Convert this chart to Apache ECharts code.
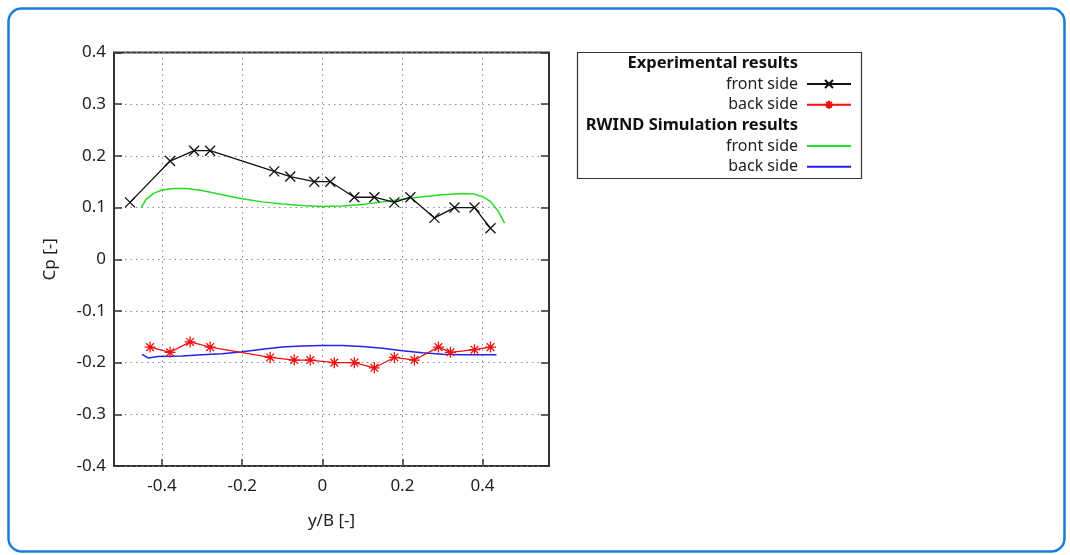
<!DOCTYPE html>
<html>
<head>
<meta charset="utf-8">
<script src="https://cdn.jsdelivr.net/npm/echarts@6/dist/echarts.min.js"></script>
<style>
html,body{margin:0;padding:0;background:#fff;}
#chart{width:1070px;height:555px;}
</style>
</head>
<body>
<div id="chart"></div>
<script>
// ---- data ----
var xTicks = [-0.4, -0.2, 0, 0.2, 0.4];
var expFront = [[-0.48,0.11],[-0.38,0.19],[-0.32,0.21],[-0.28,0.21],[-0.12,0.17],[-0.08,0.16],[-0.02,0.15],[0.02,0.15],[0.08,0.12],[0.13,0.12],[0.18,0.11],[0.22,0.12],[0.28,0.08],[0.33,0.10],[0.38,0.10],[0.42,0.06]];
var expBack = [[-0.43,-0.17],[-0.38,-0.18],[-0.33,-0.16],[-0.28,-0.17],[-0.13,-0.19],[-0.07,-0.195],[-0.03,-0.195],[0.03,-0.2],[0.08,-0.2],[0.13,-0.21],[0.18,-0.19],[0.23,-0.195],[0.29,-0.17],[0.32,-0.18],[0.38,-0.175],[0.42,-0.17]];
var simFront = [[-0.452,0.10],[-0.44,0.116],[-0.42,0.128],[-0.40,0.134],[-0.37,0.137],[-0.34,0.137],[-0.30,0.133],[-0.25,0.125],[-0.20,0.117],[-0.15,0.111],[-0.10,0.107],[-0.05,0.104],[0,0.102],[0.05,0.103],[0.10,0.106],[0.15,0.111],[0.20,0.116],[0.25,0.121],[0.30,0.125],[0.35,0.127],[0.38,0.126],[0.40,0.121],[0.42,0.112],[0.44,0.092],[0.455,0.07]];
var simBack = [[-0.45,-0.184],[-0.435,-0.191],[-0.41,-0.188],[-0.35,-0.187],[-0.30,-0.185],[-0.25,-0.183],[-0.20,-0.179],[-0.15,-0.174],[-0.10,-0.170],[-0.05,-0.168],[0,-0.167],[0.05,-0.167],[0.10,-0.169],[0.15,-0.172],[0.20,-0.177],[0.25,-0.181],[0.30,-0.184],[0.35,-0.185],[0.40,-0.185],[0.435,-0.185]];
var legendHeadings = ['Experimental results', 'RWIND Simulation results'];
var seriesNames = ['front side', 'back side'];

var FONT = 'Noto Sans';
var chart = echarts.init(document.getElementById('chart'), null, {renderer: 'canvas'});
var crossPath = 'path://M0,0L10,10M10,0L0,10';
var starPath = 'path://M0,5L10,5M5,0L5,10M1.5,1.5L8.5,8.5M8.5,1.5L1.5,8.5';
var gridDash = {color: '#8a8a8a', type: [1.5, 4], width: 1};
var legendText = {fontFamily: FONT, fontSize: 16, color: '#222', width: 90, align: 'right', lineHeight: 16, padding: [0, 4, 0, 0]};

var option = {
  animation: false,
  backgroundColor: '#fff',
  textStyle: {fontFamily: FONT},
  grid: {left: 114, right: 521, top: 52.5, bottom: 89, show: true, borderColor: '#333', borderWidth: 2, backgroundColor: 'transparent', containLabel: false},
  xAxis: [{
    type: 'value', min: -0.52, max: 0.566,
    name: 'y/B [-]', nameLocation: 'middle', nameGap: 47,
    nameTextStyle: {fontFamily: FONT, fontSize: 17, color: '#222'},
    axisLine: {show: false, onZero: false},
    axisTick: {show: true, inside: true, length: 7, customValues: xTicks, lineStyle: {color: '#333', width: 1.5}},
    axisLabel: {customValues: xTicks, margin: 12, fontFamily: FONT, fontSize: 17, color: '#222',
      formatter: function (v) { return String(Math.round(v * 10) / 10); }},
    splitLine: {show: true, lineStyle: gridDash}
  }],
  yAxis: [{
    type: 'value', min: -0.4, max: 0.4, interval: 0.1,
    name: 'Cp [-]', nameLocation: 'middle', nameGap: 55, nameRotate: 90,
    nameTextStyle: {fontFamily: FONT, fontSize: 17, color: '#222'},
    axisLine: {show: false, onZero: false},
    axisTick: {show: true, inside: true, length: 8, lineStyle: {color: '#333', width: 1.5}},
    axisLabel: {margin: 8, fontFamily: FONT, fontSize: 17, color: '#222',
      formatter: function (v) { return String(Math.round(v * 10) / 10); }},
    splitLine: {show: true, lineStyle: gridDash}
  }, {
    type: 'value', min: -0.4, max: 0.4, interval: 0.1, position: 'right',
    axisLine: {show: false, onZero: false},
    axisTick: {show: true, inside: true, length: 8, lineStyle: {color: '#333', width: 1.5}},
    axisLabel: {show: false},
    splitLine: {show: false}
  }],
  legend: [{
    orient: 'vertical', left: 708, top: 76, padding: 0, itemGap: 4.7, align: 'right',
    itemWidth: 44, itemHeight: 10,
    data: [{name: 'expFront'}, {name: 'expBack'}],
    formatter: function (n) { return n === 'expFront' ? seriesNames[0] : seriesNames[1]; },
    textStyle: legendText
  }, {
    orient: 'vertical', left: 708, top: 138, padding: 0, itemGap: 4.7, align: 'right',
    itemWidth: 44, itemHeight: 10,
    data: [{name: 'simFront', itemStyle: {opacity: 0}}, {name: 'simBack', itemStyle: {opacity: 0}}],
    formatter: function (n) { return n === 'simFront' ? seriesNames[0] : seriesNames[1]; },
    textStyle: legendText
  }],
  graphic: [
    {type: 'rect', silent: true, shape: {x: 8.5, y: 8.5, width: 1056, height: 543, r: 13}, style: {fill: 'none', stroke: '#1a7fd4', lineWidth: 2.5}},
    {type: 'rect', silent: true, shape: {x: 577.5, y: 52.5, width: 284, height: 126}, style: {fill: 'none', stroke: '#333', lineWidth: 1.2}},
    {type: 'text', silent: true, x: 798, y: 63.5, style: {text: legendHeadings[0], fontFamily: FONT, fontWeight: 'bold', fontSize: 16.5, fill: '#111', align: 'right', verticalAlign: 'middle'}},
    {type: 'text', silent: true, x: 798, y: 125.5, style: {text: legendHeadings[1], fontFamily: FONT, fontWeight: 'bold', fontSize: 16.5, fill: '#111', align: 'right', verticalAlign: 'middle'}}
  ],
  series: [
    {name: 'simFront', type: 'line', data: simFront, symbol: 'none', smooth: false, z: 3,
      lineStyle: {color: '#22dd22', width: 1.5}, itemStyle: {color: '#22dd22'}},
    {name: 'simBack', type: 'line', data: simBack, symbol: 'none', smooth: false, z: 3,
      lineStyle: {color: '#2222ee', width: 1.5}, itemStyle: {color: '#2222ee'}},
    {name: 'expFront', type: 'line', data: expFront, symbol: crossPath, symbolSize: 10, z: 4,
      lineStyle: {color: '#111', width: 1.3},
      itemStyle: {color: 'none', borderColor: '#111', borderWidth: 1.3}},
    {name: 'expBack', type: 'line', data: expBack, symbol: starPath, symbolSize: 11, z: 4,
      lineStyle: {color: '#f01010', width: 1.3},
      itemStyle: {color: 'none', borderColor: '#f01010', borderWidth: 1.3}}
  ]
};
chart.setOption(option);
</script>
</body>
</html>
